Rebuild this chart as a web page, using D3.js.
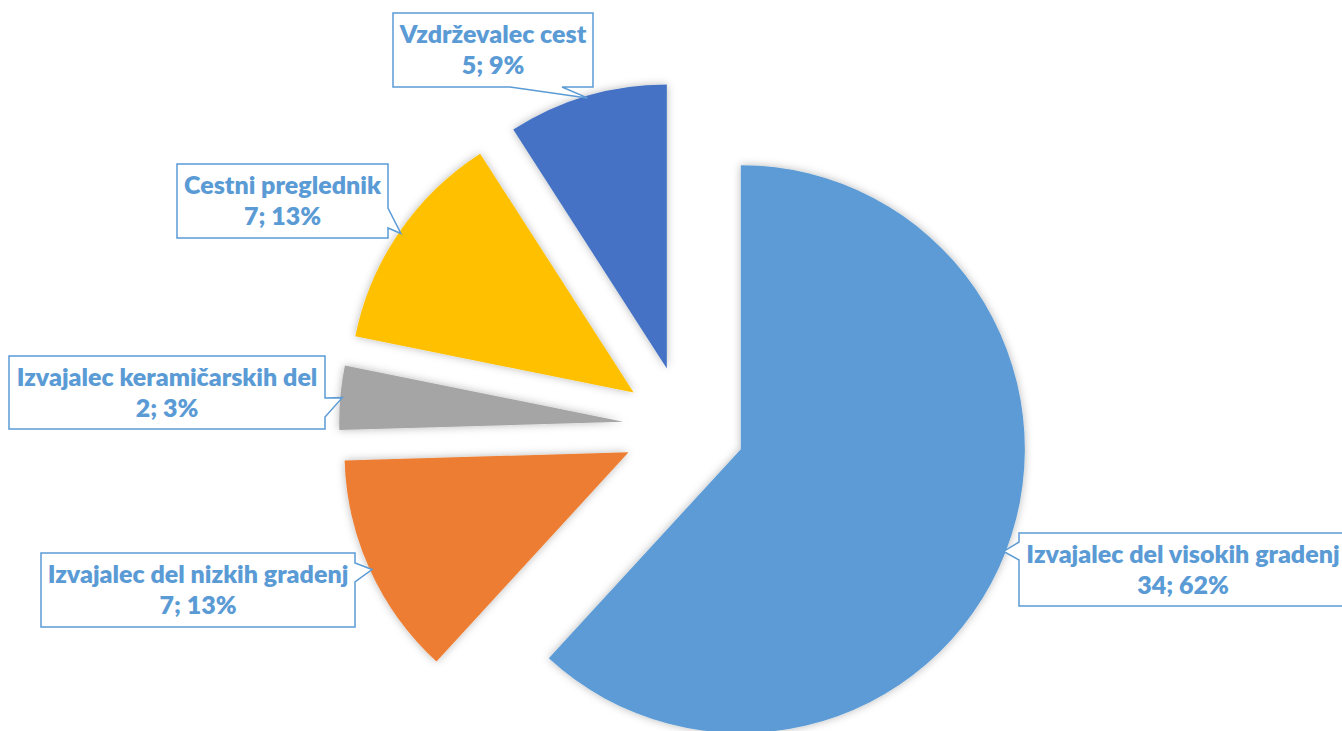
<!DOCTYPE html>
<html>
<head>
<meta charset="utf-8">
<script src="https://d3js.org/d3.v7.min.js"></script>
<style>
  body { margin: 0; background: #ffffff; }
  .label { font-family: Lato, "Open Sans", sans-serif; font-weight: 800; font-size: 25px; fill: #5b9bd5; }
</style>
</head>
<body>
<script>
// categories, values and the shown labels (clockwise from 12 o'clock)
var categories = ["Izvajalec del visokih gradenj", "Izvajalec del nizkih gradenj",
                  "Izvajalec keramičarskih del", "Cestni preglednik", "Vzdrževalec cest"];
var values = [34, 7, 2, 7, 5];
var percents = ["62%", "13%", "3%", "13%", "9%"];
var colors = ["#5b9bd5", "#ed7d31", "#a5a5a5", "#ffc000", "#4472c4"];

// callout boxes: x, y, width, height, side of the pointer and where its base sits on that side
var callouts = [
  {x: 1019, y: 533, w: 328, h: 73, side: "left",   b0: 9,   b1: 27},
  {x: 41,   y: 553, w: 314, h: 74, side: "right",  b0: 10,  b1: 29},
  {x: 9,    y: 356, w: 316, h: 73, side: "right",  b0: 42,  b1: 61},
  {x: 177,  y: 164, w: 211, h: 74, side: "right",  b0: 44,  b1: 64},
  {x: 393,  y: 13,  w: 200, h: 74, side: "bottom", b0: 117, b1: 169}
];

var width = 1342, height = 731;
var cx = 684, cy = 427, radius = 284, explode = 61;

var svg = d3.select("body")
    .append("svg")
    .attr("width", width)
    .attr("height", height);

// soft shadow like the office chart
var defs = svg.append("defs");
var filter = defs.append("filter")
    .attr("id", "shadow")
    .attr("x", "-20%").attr("y", "-20%")
    .attr("width", "140%").attr("height", "140%");
filter.append("feDropShadow")
    .attr("dx", 0).attr("dy", 0)
    .attr("stdDeviation", 4)
    .attr("flood-color", "#000")
    .attr("flood-opacity", 0.28);

var pie = d3.pie().sort(null).value(function(d) { return d; });
var arcs = pie(values);

var arc = d3.arc().innerRadius(0).outerRadius(radius);

// offset of each slice along its middle angle
function offset(d) {
  var a = (d.startAngle + d.endAngle) / 2;
  return [Math.sin(a) * explode, -Math.cos(a) * explode];
}

var g = svg.append("g")
    .attr("transform", "translate(" + cx + "," + cy + ")");

g.selectAll("path.slice")
  .data(arcs)
  .enter()
  .append("path")
  .attr("class", "slice")
  .attr("d", arc)
  .attr("fill", function(d, i) { return colors[i]; })
  .attr("filter", "url(#shadow)")
  .attr("transform", function(d) {
    var o = offset(d);
    return "translate(" + o[0] + "," + o[1] + ")";
  });

// pointer tip = middle of the outer arc of the exploded slice
function tip(d) {
  var a = (d.startAngle + d.endAngle) / 2;
  var o = offset(d);
  return [cx + o[0] + Math.sin(a) * (radius - 2), cy + o[1] - Math.cos(a) * (radius - 2)];
}

function calloutPath(c, t) {
  var x0 = c.x, y0 = c.y, x1 = c.x + c.w, y1 = c.y + c.h;
  var p = d3.path();
  p.moveTo(x0, y0);
  p.lineTo(x1, y0);
  if (c.side == "right") {
    p.lineTo(x1, y0 + c.b0);
    p.lineTo(t[0], t[1]);
    p.lineTo(x1, y0 + c.b1);
  }
  p.lineTo(x1, y1);
  if (c.side == "bottom") {
    p.lineTo(x0 + c.b1, y1);
    p.lineTo(t[0], t[1]);
    p.lineTo(x0 + c.b0, y1);
  }
  p.lineTo(x0, y1);
  if (c.side == "left") {
    p.lineTo(x0, y0 + c.b1);
    p.lineTo(t[0], t[1]);
    p.lineTo(x0, y0 + c.b0);
  }
  p.closePath();
  return p.toString();
}

var labels = svg.selectAll("g.callout")
  .data(arcs)
  .enter()
  .append("g")
  .attr("class", "callout");

labels.append("path")
  .attr("d", function(d, i) { return calloutPath(callouts[i], tip(d)); })
  .attr("fill", "#ffffff")
  .attr("stroke", "#5b9bd5")
  .attr("stroke-width", 1.5);

labels.append("text")
  .attr("class", "label")
  .attr("text-anchor", "middle")
  .attr("x", function(d, i) { return callouts[i].x + callouts[i].w / 2; })
  .attr("y", function(d, i) { return callouts[i].y + 30; })
  .text(function(d, i) { return categories[i]; });

labels.append("text")
  .attr("class", "label")
  .attr("text-anchor", "middle")
  .attr("x", function(d, i) { return callouts[i].x + callouts[i].w / 2; })
  .attr("y", function(d, i) { return callouts[i].y + 61; })
  .text(function(d, i) { return values[i] + "; " + percents[i]; });
</script>
</body>
</html>
